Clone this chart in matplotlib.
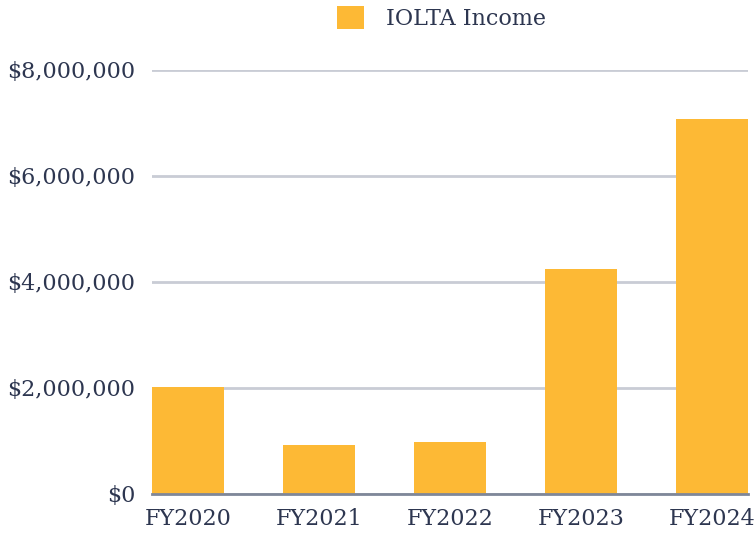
import matplotlib
matplotlib.use("Agg")
import matplotlib.pyplot as plt
from matplotlib.ticker import FuncFormatter

# ==== data ====
years = ["FY2020", "FY2021", "FY2022", "FY2023", "FY2024"]
income = [2020000, 925000, 980000, 4240000, 7080000]
y_ticks = [0, 2000000, 4000000, 6000000, 8000000]

bar_color = "#FDB935"
text_color = "#2D3650"

plt.rcParams["font.family"] = ["DejaVu Serif"]

fig = plt.figure(figsize=(7.54, 5.33), dpi=100)
ax = fig.add_axes([0.2016, 0.0732, 0.7905, 0.7955])

x = range(len(years))
ax.bar(x, income, width=0.55, color=bar_color, label="IOLTA Income", zorder=3)

ax.set_xlim(-0.275, len(years) - 1 + 0.275)
ax.set_ylim(0, 8000000)
ax.set_yticks(y_ticks)
ax.yaxis.set_major_formatter(FuncFormatter(lambda v, p: f"${v:,.0f}"))
ax.set_xticks(list(x))
ax.set_xticklabels(years)

ax.grid(axis="y", color="#C9CCD5", linewidth=2, zorder=0)
for s in ["top", "right", "left"]:
    ax.spines[s].set_visible(False)
ax.spines["bottom"].set_color("#7F8799")
ax.spines["bottom"].set_linewidth(2)
ax.spines["bottom"].set_zorder(4)

ax.tick_params(axis="both", length=0, labelsize=16, colors=text_color)
ax.tick_params(axis="y", pad=12)
ax.tick_params(axis="x", pad=10)

ax.legend(loc="center", bbox_to_anchor=(0.486, 1.123), frameon=False,
          fontsize=16, labelcolor=text_color, handlelength=1.2, handleheight=1.2,
          handletextpad=1.0, borderaxespad=0)

fig.savefig("out.png", dpi=100)
